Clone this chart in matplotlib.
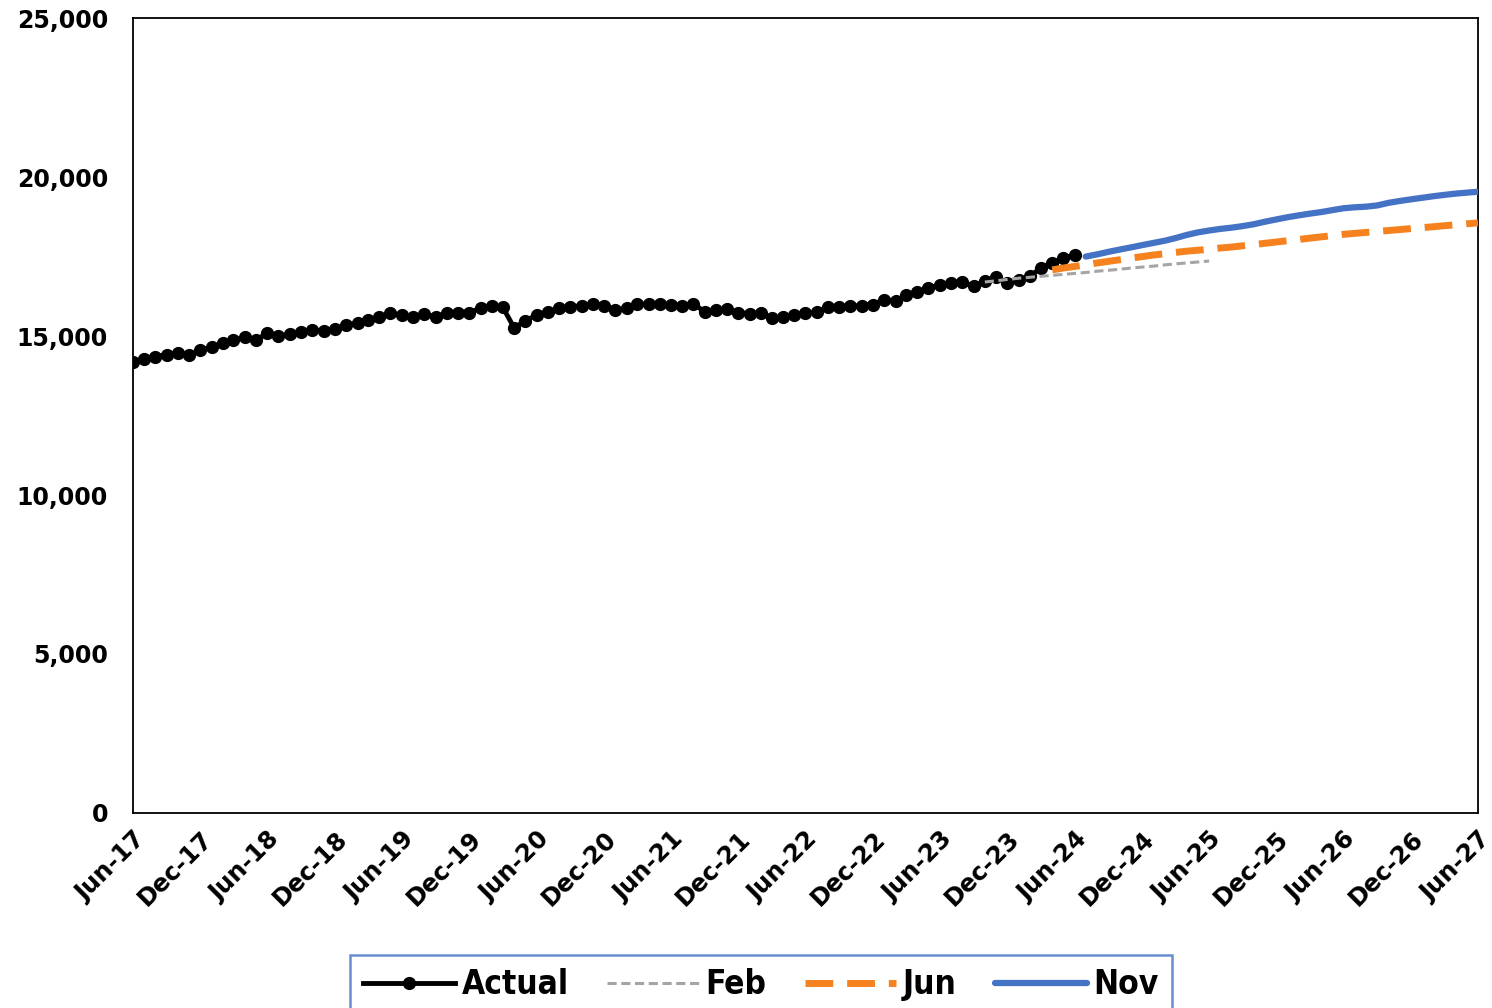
import matplotlib.pyplot as plt
import matplotlib.dates as mdates
import matplotlib.ticker as mticker
import pandas as pd

# monthly values, Jun-17 onwards
actual = [14190, 14290, 14350, 14420, 14460, 14400, 14550, 14650, 14780, 14870,
          14970, 14880, 15090, 15000, 15060, 15120, 15200, 15160, 15230, 15340,
          15420, 15520, 15600, 15720, 15650, 15600, 15690, 15600, 15720, 15740,
          15740, 15880, 15940, 15910, 15260, 15480, 15660, 15760, 15870, 15920,
          15950, 16000, 15960, 15820, 15880, 16000, 16010, 16000, 15970, 15960,
          16010, 15760, 15830, 15850, 15740, 15700, 15720, 15560, 15600, 15650,
          15720, 15750, 15900, 15920, 15940, 15960, 15990, 16150, 16100, 16280,
          16400, 16500, 16620, 16660, 16690, 16560, 16740, 16860, 16660, 16760,
          16890, 17140, 17300, 17460, 17540]
actual_start = '2017-06-01'

feb = [16700, 16740, 16780, 16820, 16850, 16880, 16910, 16940, 16970, 17000,
       17040, 17070, 17100, 17140, 17170, 17200, 17240, 17270, 17300, 17330, 17360]
feb_start = '2023-10-01'

jun = [17080, 17140, 17190, 17240, 17300, 17350, 17400, 17450, 17500, 17550,
       17590, 17630, 17670, 17700, 17730, 17770, 17800, 17840, 17880, 17920,
       17960, 18000, 18040, 18080, 18120, 18160, 18200, 18230, 18260, 18290,
       18320, 18350, 18380, 18410, 18440, 18470, 18500, 18530, 18560]
jun_start = '2024-04-01'

nov = [17500, 17570, 17650, 17720, 17790, 17860, 17930, 18000, 18080, 18180,
       18260, 18320, 18370, 18410, 18460, 18520, 18600, 18670, 18740, 18800,
       18850, 18900, 18960, 19020, 19050, 19070, 19110, 19190, 19250, 19300,
       19350, 19400, 19440, 19480, 19510, 19540]
nov_start = '2024-07-01'


def months(start, n):
    return pd.date_range(start, periods=n, freq='MS')


fig = plt.figure(figsize=(14.92, 10.08), dpi=100)
ax = fig.add_axes([0.0891, 0.1935, 0.9015, 0.7885])

ax.plot(months(actual_start, len(actual)), actual, color='black', lw=3.5,
        marker='o', ms=8.5, label='Actual', zorder=2)
ax.plot(months(feb_start, len(feb)), feb, color='#A5A5A5', lw=2.2,
        dashes=(3, 1.5), label='Feb', zorder=3)
ax.plot(months(jun_start, len(jun)), jun, color='#F5821F', lw=5,
        dashes=(4, 2), label='Jun', zorder=3)
ax.plot(months(nov_start, len(nov)), nov, color='#4472C4', lw=4.5,
        solid_capstyle='round', label='Nov', zorder=3)

ax.set_xlim(pd.Timestamp('2017-06-01'), pd.Timestamp('2027-06-01'))
ax.set_ylim(0, 25000)
ax.yaxis.set_major_locator(mticker.MultipleLocator(5000))
ax.yaxis.set_major_formatter(mticker.StrMethodFormatter('{x:,.0f}'))
ax.xaxis.set_major_locator(mdates.MonthLocator(bymonth=[6, 12]))
ax.xaxis.set_major_formatter(mdates.DateFormatter('%b-%y'))

ax.tick_params(axis='x', length=0, pad=10)
ax.tick_params(axis='y', length=0, pad=18)
for lbl in ax.get_yticklabels():
    lbl.set_fontsize(17)
    lbl.set_fontweight('bold')
for lbl in ax.get_xticklabels():
    lbl.set_fontsize(17.5)
    lbl.set_fontweight('bold')
    lbl.set_rotation(45)
    lbl.set_ha('right')
    lbl.set_rotation_mode('anchor')
for s in ax.spines.values():
    s.set_linewidth(1.3)

leg = fig.legend(loc='upper center', bbox_to_anchor=(0.51, 0.0526), ncol=4,
                 frameon=True, fancybox=False, handlelength=2.75,
                 handletextpad=0.2, columnspacing=1.15, borderpad=0.4,
                 borderaxespad=0,
                 prop={'family': 'DejaVu Sans', 'stretch': 'condensed',
                       'weight': 'bold', 'size': 24})
leg.get_frame().set_edgecolor('#4472C4')
leg.get_frame().set_linewidth(1.8)
leg.legend_handles[0].set_markevery([1])

fig.savefig('out.png', dpi=100)
